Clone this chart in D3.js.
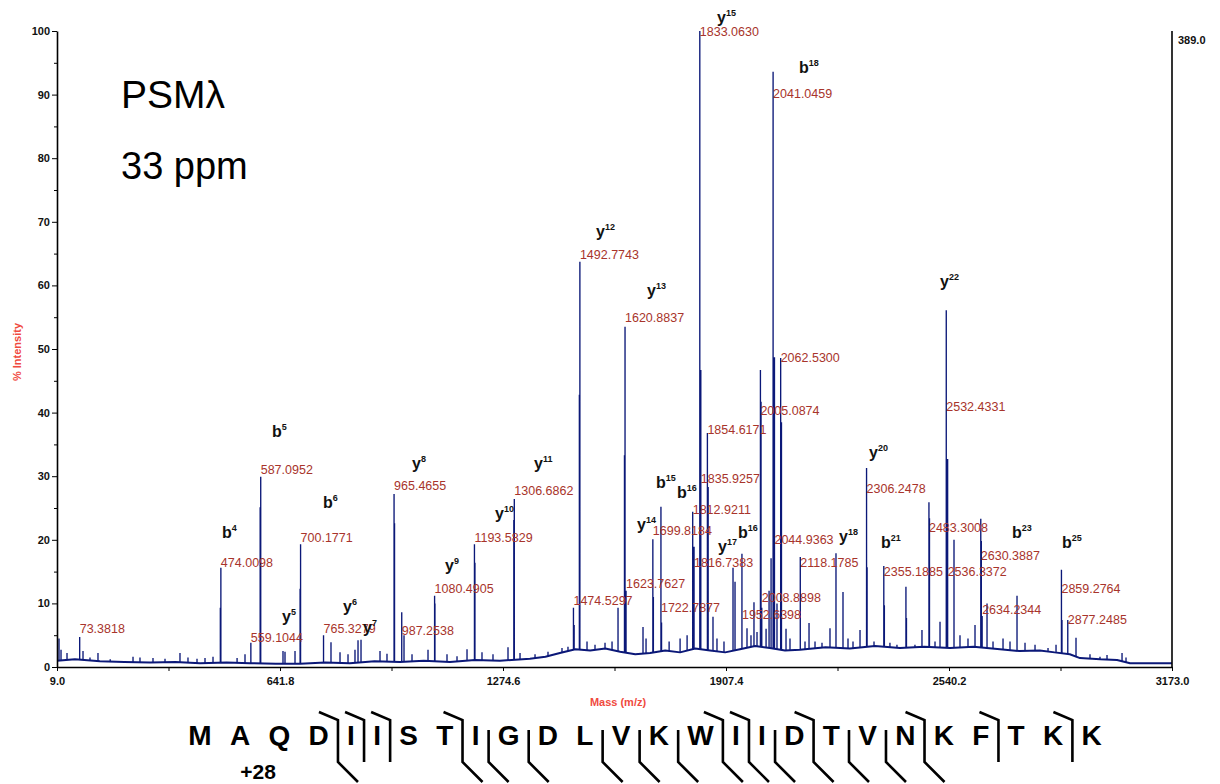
<!DOCTYPE html>
<html>
<head>
<meta charset="utf-8">
<script src="https://cdn.jsdelivr.net/npm/d3@7"></script>
<style>
  body { margin: 0; background: #fff; }
  svg { display: block; font-family: Arial, "Liberation Sans", sans-serif; }
</style>
</head>
<body>
<svg id="chart" width="1220" height="784"></svg>
<script>
// labelled peaks: [m/z, % intensity, level of the value label]
const labelledPeaks = [
  [73.3818, 4.7, 6.0], [474.0098, 15.6, 16.5], [559.1044, 3.8, 4.7],
  [587.0952, 29.9, 31.1], [700.1771, 19.3, 20.4], [765.3279, 5.0, 6.1],
  [965.4655, 27.2, 28.5], [987.2538, 8.6, 5.8], [1080.4905, 11.2, 12.4],
  [1193.5829, 19.3, 20.4], [1306.6862, 26.4, 27.7], [1474.5297, 9.3, 10.5],
  [1492.7743, 63.7, 64.8], [1620.8837, 53.5, 54.9], [1623.7627, 12.0, 13.2],
  [1699.8184, 20.1, 21.4], [1722.7877, 25.2, 9.4], [1812.9211, 24.4, 24.7],
  [1816.7383, 18.9, 16.4], [1833.0630, 100, 100], [1835.9257, 46.7, 29.7],
  [1854.6171, 36.8, 37.4], [1952.6398, 17.8, 8.3], [2005.0874, 46.7, 40.4],
  [2008.8898, 9.3, 11.0], [2041.0459, 93.6, 90.1], [2044.9363, 48.7, 20.0],
  [2062.5300, 48.6, 48.7], [2118.1785, 17.3, 16.5], [2306.2478, 31.3, 28.0],
  [2355.1885, 15.9, 15.0], [2483.3008, 25.9, 22.0], [2532.4331, 56.1, 40.9],
  [2536.3372, 32.7, 15.0], [2630.3887, 23.3, 17.6], [2634.2344, 8.0, 9.1],
  [2859.2764, 15.3, 12.3], [2877.2485, 7.4, 7.4]
];

// second data point of the big peaks (gives the thick lower part)
const shoulderPeaks = [
  [472.5, 9.3], [585.5, 25.1], [698.8, 12.3], [966.8, 22.6], [1081.5, 10.0],
  [1195.0, 16.4], [1305.3, 23.1], [1476.5, 6.6], [1491.3, 42.8], [1619.3, 33.3],
  [1701.3, 11.0], [1724.5, 7.0], [1856.8, 28.3], [2006.8, 41.7], [2064.8, 38.5],
  [2307.8, 15.7], [2356.8, 9.7], [2484.8, 23.4], [2631.9, 19.8], [2860.8, 7.4]
];

// unlabelled peaks: [m/z, % intensity]
const minorPeaks = [
  [14.7, 4.5], [20.4, 2.7], [37.4, 2.2], [82.8, 2.5], [102.6, 1.5], [125.3, 2.2],
  [160.0, 1.2], [224.7, 1.6], [244.5, 1.5], [281.4, 1.4], [315.5, 1.3], [358.0, 2.2],
  [380.7, 1.5], [406.3, 1.3], [429.0, 1.4], [451.7, 1.6], [520.0, 1.4], [542.5, 2.0],
  [650.3, 2.5], [656.0, 2.4], [684.4, 2.5], [786.5, 3.9], [812.1, 2.3], [834.8, 2.0],
  [854.6, 2.7], [863.2, 4.2], [871.7, 4.3], [925.6, 2.5], [945.4, 2.1], [993.7, 5.0],
  [1016.4, 2.0], [1061.8, 2.7], [1115.7, 2.0], [1144.1, 1.7], [1172.5, 2.8],
  [1215.0, 2.3], [1246.2, 2.0], [1288.8, 3.1], [1322.9, 2.2], [1365.5, 2.0],
  [1402.3, 2.4], [1442.0, 3.0], [1459.0, 3.2], [1513.0, 4.0], [1535.7, 3.5],
  [1564.1, 3.8], [1584.0, 4.0], [1601.0, 9.3], [1671.9, 6.3], [1680.5, 4.5],
  [1746.0, 4.0], [1777.1, 4.5], [1797.0, 5.0], [1870.5, 7.9], [1881.8, 4.5],
  [1901.7, 4.0], [1927.3, 15.6], [1933.0, 13.4], [1967.0, 6.1], [1978.3, 5.0],
  [1986.8, 10.2], [1995.4, 5.5], [2021.1, 6.0], [2029.6, 12.0], [2035.3, 17.1],
  [2052.1, 10.0], [2077.7, 6.0], [2089.0, 4.5], [2131.6, 4.0], [2143.0, 6.9],
  [2160.0, 4.0], [2179.8, 3.8], [2202.5, 6.1], [2219.5, 17.9], [2239.4, 11.8],
  [2253.6, 4.5], [2267.8, 4.0], [2287.7, 5.8], [2327.4, 4.0], [2372.6, 3.8],
  [2392.5, 3.5], [2418.0, 12.6], [2419.5, 7.7], [2443.6, 3.5], [2463.5, 5.8],
  [2500.5, 4.0], [2514.7, 7.1], [2554.4, 20.0], [2571.4, 5.0], [2594.1, 4.5],
  [2614.0, 6.6], [2648.1, 10.0], [2665.1, 4.0], [2693.5, 4.5], [2713.3, 4.0],
  [2733.2, 11.2], [2755.9, 3.8], [2784.3, 3.5], [2821.2, 3.0], [2843.9, 3.5],
  [2900.6, 4.6], [2940.3, 2.0], [2968.7, 1.6], [2988.6, 1.9], [3031.2, 2.2],
  [3042.5, 1.5]
];

// baseline level: [m/z, %]
const baseline = [
  [9, 1.0], [60, 1.2], [131, 0.9], [200, 0.8], [273, 0.7], [345, 0.8], [415, 0.6],
  [490, 0.7], [557, 0.6], [630, 0.5], [699, 0.5], [770, 0.7], [840, 0.6],
  [910, 0.9], [982, 0.8], [1050, 1.0], [1124, 0.8], [1195, 1.1], [1266, 1.0],
  [1351, 1.3], [1395, 1.6], [1436, 2.2], [1480, 2.8], [1522, 2.6], [1565, 2.9],
  [1607, 2.4], [1650, 2.0], [1692, 2.2], [1735, 2.6], [1777, 2.3], [1820, 2.9],
  [1862, 2.6], [1905, 2.3], [1947, 2.8], [1990, 3.3], [2032, 3.0], [2075, 2.6],
  [2117, 2.7], [2190, 3.1], [2259, 2.9], [2330, 3.3], [2401, 3.0], [2470, 3.2],
  [2543, 3.0], [2610, 3.2], [2685, 2.8], [2740, 2.5], [2798, 2.6], [2840, 2.3],
  [2883, 2.0], [2912, 1.4], [2969, 1.2], [3017, 1.1], [3040, 0.8], [3054, 0.6],
  [3173, 0.6]
];

// ion annotations: [ion, number, m/z of left edge, level]
const ionLabels = [
  ["b", "4", 477.2, 21.1], ["b", "5", 619.1, 37.0], ["y", "5", 647.5, 7.9],
  ["b", "6", 763.8, 25.8], ["y", "6", 820.6, 9.4], ["y", "7", 877.3, 6.1],
  ["y", "8", 1016.4, 31.9], ["y", "9", 1110.0, 15.9], ["y", "10", 1251.9, 24.1],
  ["y", "11", 1362.6, 31.9], ["y", "12", 1538.5, 68.4], ["y", "13", 1683.2, 59.1],
  ["y", "14", 1654.8, 22.3], ["b", "15", 1708.8, 28.9], ["b", "16", 1768.4, 27.4],
  ["y", "15", 1881.9, 102.0], ["y", "17", 1884.7, 18.9], ["b", "16", 1941.5, 21.1],
  ["b", "18", 2114.6, 94.2], ["y", "18", 2228.1, 20.4], ["y", "20", 2313.2, 33.6],
  ["b", "21", 2347.3, 19.5], ["y", "22", 2514.7, 60.5], ["b", "23", 2719.0, 21.1],
  ["b", "25", 2860.9, 19.5]
];

const xTicks = [9.0, 641.8, 1274.6, 1907.4, 2540.2, 3173.0];
const xMinorTicks = [325.4, 958.2, 1591.0, 2223.8, 2856.6];
const yTicks = [0, 10, 20, 30, 40, 50, 60, 70, 80, 90, 100];
const yMinorTicks = [5, 15, 25, 35, 45, 55, 65, 75, 85, 95];

// peptide sequence and fragment breaks (after residue n)
const sequence = "MAQDIISTIGDLVKWIIDTVNKFTKK".split("");
const bBreaks = [4, 5, 6, 8, 15, 16, 18, 21, 23, 25];
const yBreaks = [4, 8, 9, 10, 12, 13, 14, 15, 16, 17, 18, 19, 20, 21];

const svg = d3.select("#chart");
const width = 1220;
const margin = { top: 31, right: 48, bottom: 117, left: 57 };
const plotBottom = 784 - margin.bottom;

const x = d3.scaleLinear().domain([9, 3173]).range([margin.left, width - margin.right]);
const y = d3.scaleLinear().domain([0, 100]).range([plotBottom, margin.top]);
const baseAt = d3.scaleLinear().domain(baseline.map(d => d[0])).range(baseline.map(d => d[1])).clamp(true);

const lineColor = "#0b1878";
const valueColor = "#a8342b";
const titleColor = "#f04a3e";

// spectrum: baseline polyline + a stick for every peak
svg.append("path")
  .attr("fill", "none")
  .attr("stroke", lineColor)
  .attr("stroke-width", 2)
  .attr("stroke-linejoin", "bevel")
  .attr("d", d3.line().x(d => x(d[0])).y(d => y(d[1]))(baseline));

const allPeaks = [...minorPeaks, ...shoulderPeaks, ...labelledPeaks.map(d => [d[0], d[1]])];
svg.append("path")
  .attr("fill", "none")
  .attr("stroke", lineColor)
  .attr("stroke-width", 1.35)
  .attr("d", allPeaks.map(d => `M${x(d[0])},${y(baseAt(d[0]))}V${y(d[1])}`).join(""));

// y axis (left)
const axisStyle = g => {
  g.select(".domain").attr("stroke", "#000").attr("stroke-width", 1.6);
  g.selectAll(".tick line").attr("stroke", "#000");
  g.selectAll("text").attr("fill", "#111").style("font-weight", "bold").style("font-size", "11px");
};
svg.append("g")
  .attr("transform", `translate(${margin.left},0)`)
  .call(d3.axisLeft(y).tickValues(yTicks).tickSize(5).tickPadding(2).tickSizeOuter(0).tickFormat(d3.format("d")))
  .call(axisStyle);
svg.append("g")
  .attr("transform", `translate(${margin.left},0)`)
  .call(d3.axisLeft(y).tickValues(yMinorTicks).tickSize(3).tickFormat(""))
  .call(g => g.select(".domain").remove());

// right axis line with absolute intensity
svg.append("line")
  .attr("x1", x(3173)).attr("x2", x(3173))
  .attr("y1", y(100)).attr("y2", y(0))
  .attr("stroke", "#000").attr("stroke-width", 1.6);
svg.append("text")
  .attr("x", x(3173) + 6).attr("y", y(100) + 13)
  .style("font-weight", "bold").style("font-size", "11px").attr("fill", "#111")
  .text("389.0");

// x axis
svg.append("g")
  .attr("transform", `translate(0,${plotBottom})`)
  .call(d3.axisBottom(x).tickValues(xTicks).tickSize(4).tickPadding(6).tickSizeOuter(0).tickFormat(d3.format(".1f")))
  .call(axisStyle);
svg.append("g")
  .attr("transform", `translate(0,${plotBottom})`)
  .call(d3.axisBottom(x).tickValues(xMinorTicks).tickSize(4).tickFormat(""))
  .call(g => g.select(".domain").remove());

// axis titles
svg.append("text")
  .attr("transform", `translate(21,${(y(0) + y(100)) / 2 + 3}) rotate(-90)`)
  .attr("text-anchor", "middle")
  .style("font-weight", "bold").style("font-size", "11px").attr("fill", titleColor)
  .text("% Intensity");
svg.append("text")
  .attr("x", 618).attr("y", 706)
  .attr("text-anchor", "middle")
  .style("font-weight", "bold").style("font-size", "11px").attr("fill", titleColor)
  .text("Mass (m/z)");

// value labels
svg.append("g")
  .style("font-size", "12.5px")
  .attr("fill", valueColor)
  .selectAll("text")
  .data(labelledPeaks)
  .join("text")
  .attr("x", d => x(d[0]))
  .attr("y", d => y(d[2]) + 4.5)
  .text(d => d[0].toFixed(4));

// ion labels
const ions = svg.append("g")
  .style("font-weight", "bold")
  .style("font-size", "16px")
  .attr("fill", "#111")
  .selectAll("text")
  .data(ionLabels)
  .join("text")
  .attr("x", d => x(d[2]))
  .attr("y", d => y(d[3]) + 5);
ions.append("tspan").text(d => d[0]);
ions.append("tspan").attr("dy", -7).style("font-size", "9px").text(d => d[1]);

// title
svg.append("text").attr("x", 121).attr("y", 108).style("font-size", "39px").attr("fill", "#000").text("PSMλ");
svg.append("text").attr("x", 121).attr("y", 179).style("font-size", "38px").attr("fill", "#000").text("33 ppm");

// sequence with fragment markers
const seq = svg.append("g").style("font-weight", "bold").style("font-size", "28px").attr("fill", "#000");
const widths = sequence.map(c => {
  const t = seq.append("text").text(c);
  const w = t.node().getComputedTextLength();
  t.remove();
  return w;
});
const gap = 18.3;
const centers = [];
widths.forEach((w, i) => {
  centers.push(i === 0 ? 200 : centers[i - 1] + (widths[i - 1] + w) / 2 + gap);
});
seq.selectAll("text")
  .data(sequence)
  .join("text")
  .attr("x", (d, i) => centers[i])
  .attr("y", 745)
  .attr("text-anchor", "middle")
  .text(d => d);

svg.append("text")
  .attr("x", 258).attr("y", 779)
  .attr("text-anchor", "middle")
  .style("font-weight", "bold").style("font-size", "21px").attr("fill", "#000")
  .text("+28");

const breakX = n => centers[n - 1] + widths[n - 1] / 2 + gap / 2;
const marks = d3.range(1, sequence.length).filter(n => bBreaks.includes(n) || yBreaks.includes(n));
svg.append("g")
  .attr("fill", "none")
  .attr("stroke", "#000")
  .attr("stroke-width", 2.6)
  .selectAll("path")
  .data(marks)
  .join("path")
  .attr("d", n => {
    const bx = breakX(n);
    const hasB = bBreaks.includes(n), hasY = yBreaks.includes(n);
    let p = hasB ? `M${bx - 19},712L${bx},720` : `M${bx},730`;
    p += `L${bx},762`;
    if (hasY) p += `L${bx + 20},782`;
    return p;
  });
</script>
</body>
</html>
